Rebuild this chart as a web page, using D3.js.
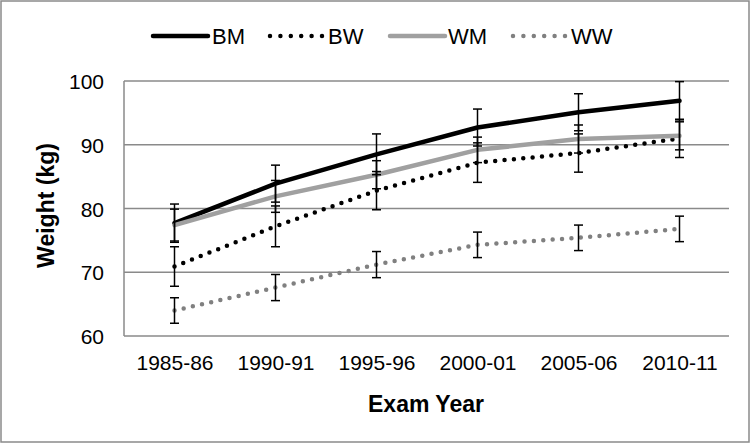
<!DOCTYPE html>
<html>
<head>
<meta charset="utf-8">
<script src="https://cdn.jsdelivr.net/npm/d3@7"></script>
<style>
  body { margin: 0; background: #fff; }
  text { font-family: "Liberation Sans", Arial, sans-serif; fill: #000; }
</style>
</head>
<body>
<div id="chart"></div>
<script>
// data
const years = ["1985-86", "1990-91", "1995-96", "2000-01", "2005-06", "2010-11"];
const bmMean = [77.7, 83.9, 88.5, 92.7, 95.1, 96.9];
const bmErr  = [3.0, 2.9, 3.2, 2.9, 2.9, 3.0];
const bwMean = [70.9, 77.2, 82.8, 87.2, 88.7, 91.0];
const bwErr  = [3.1, 3.2, 3.0, 3.1, 3.0, 3.0];
const wmMean = [77.4, 81.9, 85.3, 89.2, 90.9, 91.4];
const wmErr  = [2.5, 2.5, 2.2, 2.0, 2.2, 2.2];
const wwMean = [64.0, 67.6, 71.2, 74.3, 75.4, 76.8];
const wwErr  = [2.0, 2.05, 2.05, 2.0, 2.0, 2.0];
const yTicks = [60, 70, 80, 90, 100];

const series = [
  { name: "BM", mean: bmMean, err: bmErr, color: "#000000", dotted: false },
  { name: "BW", mean: bwMean, err: bwErr, color: "#000000", dotted: true },
  { name: "WM", mean: wmMean, err: wmErr, color: "#a0a0a0", dotted: false },
  { name: "WW", mean: wwMean, err: wwErr, color: "#808080", dotted: true }
];

const width = 752;
const height = 444;
const plot = { left: 124, right: 730, top: 81, bottom: 336 };

const svg = d3.select("#chart")
  .append("svg")
  .attr("width", width)
  .attr("height", height);

// outer frame
svg.append("rect")
  .attr("x", 1).attr("y", 1)
  .attr("width", 748).attr("height", 441)
  .attr("fill", "none")
  .attr("stroke", "#8a8a8a")
  .attr("stroke-width", 1.5);

const x = d3.scalePoint()
  .domain(years)
  .range([plot.left, plot.right])
  .padding(0.5);

const y = d3.scaleLinear()
  .domain([60, 100])
  .range([plot.bottom, plot.top]);

// gridlines
svg.append("g")
  .selectAll("line")
  .data(yTicks)
  .join("line")
  .attr("x1", plot.left)
  .attr("x2", plot.right - 1)
  .attr("y1", d => y(d))
  .attr("y2", d => y(d))
  .attr("stroke", "#8a8a8a")
  .attr("stroke-width", 1.5);

// left axis line
svg.append("line")
  .attr("x1", plot.left).attr("x2", plot.left)
  .attr("y1", plot.top).attr("y2", plot.bottom)
  .attr("stroke", "#8a8a8a")
  .attr("stroke-width", 1.5);

// y axis labels
const yAxis = svg.append("g")
  .attr("transform", `translate(${plot.left - 20}, 0)`)
  .call(d3.axisLeft(y).tickValues(yTicks).tickSize(0).tickPadding(0));
yAxis.select(".domain").remove();
yAxis.selectAll("text")
  .attr("dy", "0.36em")
  .style("font-family", "Liberation Sans, Arial, sans-serif")
  .style("font-size", "21px")
  .attr("fill", "#000");

// x axis labels
const xAxis = svg.append("g")
  .attr("transform", `translate(0, ${plot.bottom})`)
  .call(d3.axisBottom(x).tickSize(0).tickPadding(0));
xAxis.select(".domain").remove();
xAxis.selectAll("text")
  .attr("y", 34)
  .attr("dy", 0)
  .style("font-family", "Liberation Sans, Arial, sans-serif")
  .style("font-size", "21px")
  .attr("fill", "#000");

// axis titles
svg.append("text")
  .attr("x", (plot.left + plot.right) / 2 - 1)
  .attr("y", 412)
  .attr("text-anchor", "middle")
  .style("font-size", "23px")
  .style("font-weight", "bold")
  .text("Exam Year");

svg.append("text")
  .attr("transform", `translate(54, ${(plot.top + plot.bottom) / 2 - 3}) rotate(-90)`)
  .attr("text-anchor", "middle")
  .style("font-size", "23px")
  .style("font-weight", "bold")
  .text("Weight (kg)");

// lines
const line = d3.line()
  .x((d, i) => x(years[i]))
  .y(d => y(d));

series.forEach(s => {
  svg.append("path")
    .datum(s.mean)
    .attr("fill", "none")
    .attr("stroke", s.color)
    .attr("stroke-width", 4.5)
    .attr("stroke-linecap", "round")
    .attr("stroke-linejoin", "round")
    .attr("stroke-dasharray", s.dotted ? "0,9.4" : null)
    .attr("d", line);
});

// error bars
const cap = 4.5;
series.forEach(s => {
  const g = svg.append("g")
    .attr("stroke", "#000")
    .attr("stroke-width", 1.5);
  s.mean.forEach((m, i) => {
    const cx = x(years[i]);
    const hi = y(m + s.err[i]);
    const lo = y(m - s.err[i]);
    g.append("line").attr("x1", cx).attr("x2", cx).attr("y1", hi).attr("y2", lo);
    g.append("line").attr("x1", cx - cap).attr("x2", cx + cap).attr("y1", hi).attr("y2", hi);
    g.append("line").attr("x1", cx - cap).attr("x2", cx + cap).attr("y1", lo).attr("y2", lo);
  });
});

// legend
const legendItems = [
  { s: series[0], x1: 153, x2: 208, tx: 212 },
  { s: series[1], x1: 270, x2: 322, tx: 328 },
  { s: series[2], x1: 390, x2: 445, tx: 448 },
  { s: series[3], x1: 513, x2: 565, tx: 571 }
];
const legend = svg.append("g");
legendItems.forEach(d => {
  legend.append("line")
    .attr("x1", d.x1).attr("x2", d.x2)
    .attr("y1", 36).attr("y2", 36)
    .attr("stroke", d.s.color)
    .attr("stroke-width", 4.5)
    .attr("stroke-linecap", "round")
    .attr("stroke-dasharray", d.s.dotted ? "0,10.4" : null);
  legend.append("text")
    .attr("x", d.tx)
    .attr("y", 44)
    .style("font-size", "22px")
    .text(d.s.name);
});
</script>
</body>
</html>
